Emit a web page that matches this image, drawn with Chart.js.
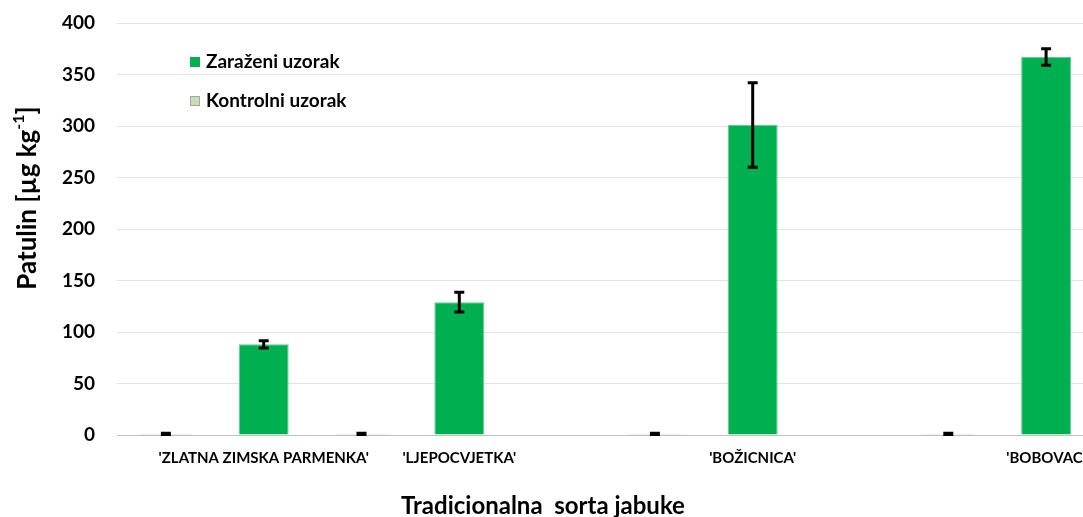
<!DOCTYPE html>
<html>
<head>
<meta charset="utf-8">
<script src="https://cdn.jsdelivr.net/npm/chart.js@4.4.0/dist/chart.umd.min.js"></script>
<style>
    html, body { margin: 0; padding: 0; background: #fff; overflow: hidden; }
    #wrap { position: relative; width: 1105px; height: 517px; }
</style>
</head>
<body>
<div id="wrap"><canvas id="patulinChart"></canvas></div>
<script>
// tick labels (slots; blank slots hold the control bars)
const slotLabels = ['', "'ZLATNA ZIMSKA PARMENKA'", '', "'LJEPOCVJETKA'", '', '', "'BOŽICNICA'", '', '', "'BOBOVAC'"];

// Zaraženi uzorak (µg/kg) and its error
const infected    = [null, 88, null, 129, null, null, 301, null, null, 367];
const infectedErr = [null, 3.5, null, 9.5, null, null, 41, null, null, 8];

// Kontrolni uzorak
const control    = [1, null, 1, null, null, 1, null, null, 1, null];
const controlErr = [0.6, null, 0.6, null, null, 0.6, null, null, 0.6, null];

const yTicks = [0, 50, 100, 150, 200, 250, 300, 350, 400];

const FONT = 'Lato, "Open Sans", sans-serif';

// error bars drawn from the value/err arrays through the y scale
const errorBarPlugin = {
    id: 'errorBars',
    afterDatasetsDraw(chart) {
        const ctx = chart.ctx;
        const y = chart.scales.y;
        chart.data.datasets.forEach((ds, i) => {
            const meta = chart.getDatasetMeta(i);
            ctx.save();
            ctx.strokeStyle = '#000';
            ctx.lineWidth = 3;
            meta.data.forEach((bar, j) => {
                const v = ds.data[j];
                const e = ds.err[j];
                if (v == null || e == null) return;
                const top = y.getPixelForValue(v + e);
                const bot = y.getPixelForValue(v - e);
                const x = bar.x;
                ctx.beginPath();
                ctx.moveTo(x, top); ctx.lineTo(x, bot);
                ctx.moveTo(x - 5, top); ctx.lineTo(x + 5, top);
                ctx.moveTo(x - 5, bot); ctx.lineTo(x + 5, bot);
                ctx.stroke();
            });
            ctx.restore();
        });
    }
};

// axis titles + legend inside the plot
const decorPlugin = {
    id: 'decor',
    afterDraw(chart) {
        const ctx = chart.ctx;
        ctx.save();
        ctx.fillStyle = '#000';

        // y title with superscript
        ctx.translate(28, 198);
        ctx.rotate(-Math.PI / 2);
        const main = 'Patulin [µg kg';
        const sup = '-1';
        const end = ']';
        ctx.font = 'bold 26px ' + FONT;
        const w1 = ctx.measureText(main).width;
        const w3 = ctx.measureText(end).width;
        ctx.font = 'bold 16px ' + FONT;
        const w2 = ctx.measureText(sup).width;
        let x0 = -(w1 + w2 + w3) / 2;
        ctx.textBaseline = 'middle';
        ctx.font = 'bold 26px ' + FONT;
        ctx.fillText(main, x0, 0);
        ctx.font = 'bold 16px ' + FONT;
        ctx.fillText(sup, x0 + w1, -9);
        ctx.font = 'bold 26px ' + FONT;
        ctx.fillText(end, x0 + w1 + w2, 0);
        ctx.restore();

        // x title
        ctx.save();
        ctx.fillStyle = '#000';
        ctx.font = 'bold 24px ' + FONT;
        ctx.textAlign = 'center';
        ctx.textBaseline = 'alphabetic';
        ctx.fillText('Tradicionalna  sorta jabuke', 543, 514);
        ctx.restore();

        // legend
        ctx.save();
        ctx.font = 'bold 19px ' + FONT;
        ctx.textBaseline = 'middle';
        chart.data.datasets.forEach((ds, i) => {
            const cy = 62 + i * 39;
            ctx.fillStyle = ds.backgroundColor;
            ctx.fillRect(190, cy - 5, 10, 10);
            ctx.strokeStyle = ds.legendBorder;
            ctx.lineWidth = 1;
            ctx.strokeRect(190.5, cy - 4.5, 9, 9);
            ctx.fillStyle = '#000';
            ctx.fillText(ds.label, 206, cy);
        });
        ctx.restore();
    }
};

const chart = new Chart(document.getElementById('patulinChart'), {
    type: 'bar',
    data: {
        labels: slotLabels,
        datasets: [
            {
                label: 'Zaraženi uzorak',
                data: infected,
                err: infectedErr,
                backgroundColor: '#00B050',
                borderColor: '#5BD08E',
                legendBorder: '#00B050',
                borderWidth: 1,
                grouped: false,
                barPercentage: 1,
                categoryPercentage: 0.51
            },
            {
                label: 'Kontrolni uzorak',
                data: control,
                err: controlErr,
                backgroundColor: '#C5E0B4',
                borderColor: '#A6A6A6',
                legendBorder: '#A6A6A6',
                borderWidth: 1,
                grouped: false,
                barPercentage: 1,
                categoryPercentage: 0.53
            }
        ]
    },
    options: {
        responsive: true,
        maintainAspectRatio: false,
        animation: false,
        layout: { padding: { top: 23, right: 10, left: 0, bottom: 0 } },
        plugins: {
            legend: { display: false },
            tooltip: { enabled: false }
        },
        scales: {
            x: {
                grid: { display: false, drawTicks: false },
                border: { display: true, color: '#BFBFBF', width: 1 },
                ticks: {
                    autoSkip: false,
                    maxRotation: 0,
                    padding: 14,
                    color: '#000',
                    font: { family: FONT, size: 15, weight: 'bold' }
                },
                afterFit(scale) { scale.height = 82; }
            },
            y: {
                min: 0,
                max: 400,
                afterBuildTicks(scale) { scale.ticks = yTicks.map(v => ({ value: v })); },
                grid: { color: '#E3E3E3', drawTicks: true, tickLength: 22, tickColor: 'rgba(0,0,0,0)' },
                border: { display: false },
                ticks: {
                    padding: 0,
                    color: '#000',
                    font: { family: FONT, size: 19, weight: 'bold' }
                },
                afterFit(scale) { scale.width = 117; }
            }
        }
    },
    plugins: [errorBarPlugin, decorPlugin]
});
</script>
</body>
</html>
